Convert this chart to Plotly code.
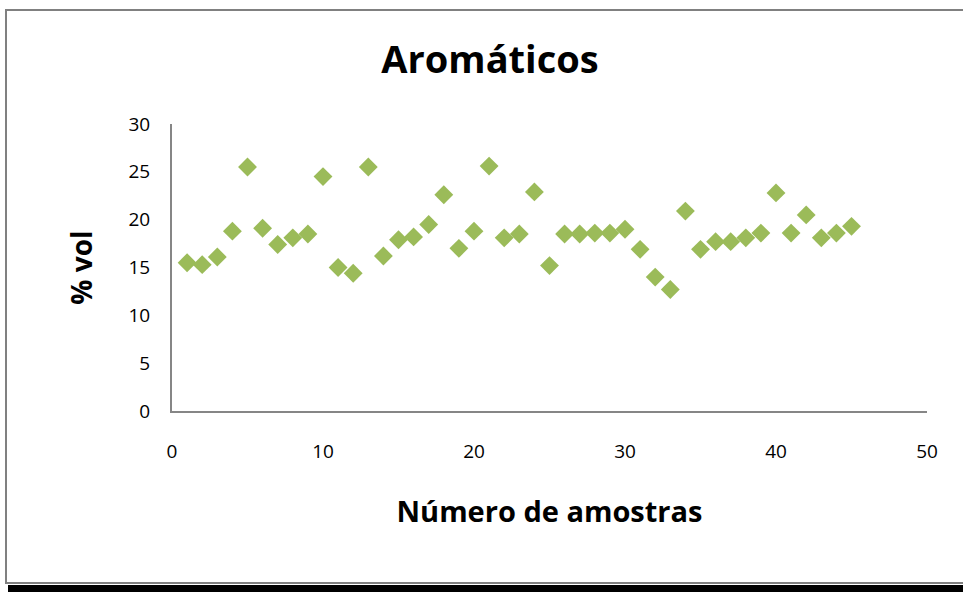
import plotly.graph_objects as go

amostras = list(range(1, 46))
aromaticos = [15.5, 15.3, 16.1, 18.8, 25.5, 19.1, 17.4, 18.1, 18.5, 24.5,
              15.0, 14.4, 25.5, 16.2, 17.9, 18.2, 19.5, 22.6, 17.0, 18.8,
              25.6, 18.1, 18.5, 22.9, 15.2, 18.5, 18.5, 18.6, 18.6, 19.0,
              16.9, 14.0, 12.7, 20.9, 16.9, 17.7, 17.7, 18.1, 18.6, 22.8,
              18.6, 20.5, 18.1, 18.6, 19.3]
x_ticks = [0, 10, 20, 30, 40, 50]
y_ticks = [0, 5, 10, 15, 20, 25, 30]

FONT = "Open Sans, sans-serif"

fig = go.Figure()
fig.add_trace(go.Scatter(
    x=amostras, y=aromaticos, mode="markers",
    marker=dict(symbol="diamond", size=14.5, color="#9BBB59"),
    showlegend=False,
))

L, R, T, B = 172, 36, 124, 181
W, H = 963, 592
pw, ph = W - L - R, H - T - B

def px(x):
    return (x - L) / pw

def py(y):
    return (H - B - y) / ph

fig.update_layout(
    width=W, height=H,
    margin=dict(l=L, r=R, t=T, b=B),
    paper_bgcolor="white", plot_bgcolor="white",
    title=dict(text="<b>Aromáticos</b>", x=px(490), xref="paper", xanchor="center",
               y=1 - 60 / H, yanchor="middle",
               font=dict(family=FONT, size=38, color="black")),
    xaxis=dict(range=[0, 50], tickvals=x_ticks, showgrid=False, zeroline=False,
               showline=True, linecolor="#868686", linewidth=2,
               ticks="", ticklabelstandoff=22,
               tickfont=dict(family=FONT, size=19, color="black"),
               title=dict(text="<b>Número de amostras</b>", standoff=39,
                          font=dict(family=FONT, size=29, color="black"))),
    yaxis=dict(range=[0, 30], tickvals=y_ticks, showgrid=False, zeroline=False,
               showline=True, linecolor="#868686", linewidth=2,
               ticks="", ticklabelstandoff=16,
               tickfont=dict(family=FONT, size=19, color="black"),
               title=dict(text="<b>% vol</b>", standoff=28,
                          font=dict(family=FONT, size=28, color="black"))),
    shapes=[
        dict(type="rect", xref="paper", yref="paper",
             x0=px(8), x1=px(975), y0=py(595), y1=py(585),
             fillcolor="black", line=dict(width=0), layer="below"),
        dict(type="rect", xref="paper", yref="paper",
             x0=px(6), x1=px(975), y0=py(583), y1=py(10),
             fillcolor="rgba(0,0,0,0)", line=dict(color="#808080", width=2)),
    ],
)

fig.write_html("out.html", config={"displayModeBar": False},
               post_script="document.body.style.margin='0';document.body.style.overflow='hidden';")
